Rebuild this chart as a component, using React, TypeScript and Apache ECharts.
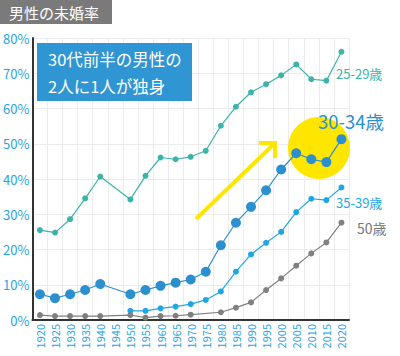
import React, { useEffect, useRef } from "react";
import * as echarts from "echarts";

const years = ["1920","1925","1930","1935","1940","1945","1950","1955","1960","1965","1970","1975","1980","1985","1990","1995","2000","2005","2010","2015","2020"];
const s2529 = [25.5, 24.8, 28.6, 34.5, 40.7, null, 34.2, 40.9, 46.1, 45.6, 46.3, 48.0, 55.1, 60.5, 64.6, 66.9, 69.4, 72.5, 68.3, 67.9, 76.1];
const s3034 = [7.3, 6.2, 7.3, 8.5, 10.2, null, 7.3, 8.5, 9.7, 10.6, 11.5, 13.7, 21.2, 27.6, 32.1, 36.8, 42.7, 47.3, 45.6, 44.8, 51.3];
const s3539 = [null, null, null, null, null, null, 2.6, 2.6, 3.3, 3.8, 4.5, 5.7, 8.1, 13.7, 18.6, 21.9, 25.0, 30.6, 34.4, 34.0, 37.6];
const s50 = [1.4, 1.1, 1.1, 1.1, 1.1, null, 1.4, 0.7, 1.1, 1.2, 1.5, null, 2.2, 3.5, 5.0, 8.5, 11.8, 15.4, 18.9, 22.0, 27.6];
const yTicks = [0, 10, 20, 30, 40, 50, 60, 70, 80];

const FONT = "'Noto Sans CJK JP', 'Noto Sans', sans-serif";

export default function App() {
  const ref = useRef<HTMLDivElement>(null);
  useEffect(() => {
    document.body.style.margin = "0";
    const chart = echarts.init(ref.current!, null, { renderer: "svg" });
    const mk = (name: string, data: (number | null)[], color: string, size: number) => ({
      name,
      type: "line",
      data,
      connectNulls: true,
      symbol: "circle",
      symbolSize: size,
      lineStyle: { color, width: 1.2 },
      itemStyle: { color },
      z: 3,
    });
    chart.setOption({
      animation: false,
      textStyle: { fontFamily: FONT },
      grid: { left: 31, right: 51, top: 38, bottom: 36 },
      xAxis: {
        type: "category",
        data: years,
        boundaryGap: true,
        axisLine: { show: true, lineStyle: { color: "#333", width: 2 } },
        axisTick: { show: false },
        splitLine: { show: true, lineStyle: { color: "#ececec", width: 1 } },
        axisLabel: { rotate: 90, color: "#29a3e0", fontSize: 11, margin: 4, interval: 0, fontFamily: FONT },
      },
      yAxis: {
        type: "value",
        min: 0,
        max: 80,
        interval: 10,
        axisLine: { show: true, lineStyle: { color: "#333", width: 2 } },
        axisTick: { show: false },
        splitLine: { show: true, lineStyle: { color: "#ececec", width: 1 } },
        axisLabel: {
          color: "#29a3e0",
          fontSize: 13,
          margin: 3,
          fontFamily: FONT,
          formatter: (v: number) => (yTicks.includes(v) ? v + "%" : ""),
        },
      },
      series: [
        mk("25-29歳", s2529, "#3db4a9", 6),
        mk("30-34歳", s3034, "#2b8fd0", 10),
        mk("35-39歳", s3539, "#1ea6e6", 6),
        mk("50歳", s50, "#808080", 6),
      ],
      graphic: [
        { type: "rect", shape: { x: 0, y: 0, width: 112, height: 24 }, style: { fill: "#7a7a7a" }, z: 10 },
        { type: "text", x: 9, y: 12, style: { text: "男性の未婚率", fill: "#fff", fontSize: 15, fontFamily: FONT, verticalAlign: "middle" }, z: 11 },
        { type: "rect", shape: { x: 37, y: 43, width: 155, height: 58 }, style: { fill: "#2f95d3" }, z: 10 },
        { type: "text", x: 48, y: 59, style: { text: "30代前半の男性の", fill: "#fff", fontSize: 16.5, fontFamily: FONT, verticalAlign: "middle" }, z: 11 },
        { type: "text", x: 48, y: 86, style: { text: "2人に1人が独身", fill: "#fff", fontSize: 16.5, fontFamily: FONT, verticalAlign: "middle" }, z: 11 },
        { type: "circle", shape: { cx: 319, cy: 148, r: 31 }, style: { fill: "#ffe600" }, z: 1 },
        { type: "line", shape: { x1: 196, y1: 219, x2: 274, y2: 144 }, style: { stroke: "#ffe600", lineWidth: 4 }, z: 1 },
        { type: "polyline", shape: { points: [[259, 143], [275, 143], [275, 158]] }, style: { stroke: "#ffe600", lineWidth: 4, fill: null }, z: 1 },
        { type: "text", x: 336, y: 73, style: { text: "25-29歳", fill: "#3db4a9", fontSize: 13, fontFamily: FONT, verticalAlign: "middle" }, z: 11 },
        { type: "text", x: 318, y: 121, style: { text: "30-34歳", fill: "#2b8fd0", fontSize: 18.5, fontFamily: FONT, verticalAlign: "middle" }, z: 11 },
        { type: "text", x: 336, y: 202, style: { text: "35-39歳", fill: "#1ea6e6", fontSize: 13, fontFamily: FONT, verticalAlign: "middle" }, z: 11 },
        { type: "text", x: 357, y: 228, style: { text: "50歳", fill: "#777", fontSize: 14, fontFamily: FONT, verticalAlign: "middle" }, z: 11 },
      ],
    });
    return () => chart.dispose();
  }, []);
  return <div ref={ref} style={{ width: 400, height: 356 }} />;
}
